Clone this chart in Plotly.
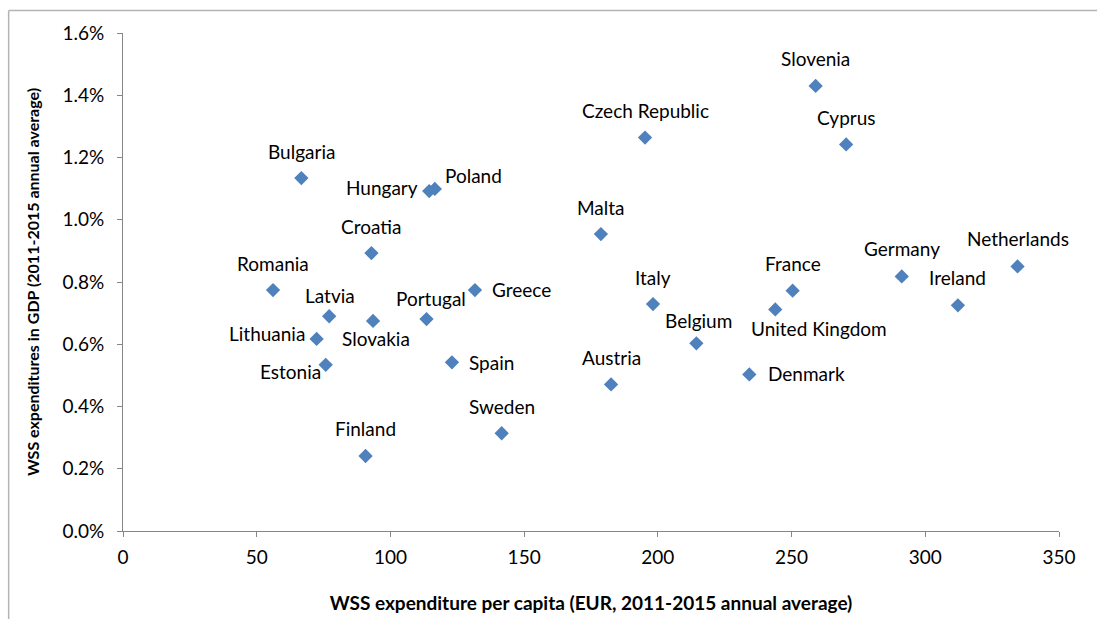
import plotly.graph_objects as go

# ---- data ----
countries = [
    "Bulgaria", "Hungary", "Poland", "Croatia", "Romania", "Latvia", "Slovakia",
    "Portugal", "Greece", "Lithuania", "Estonia", "Spain", "Sweden", "Finland",
    "Slovenia", "Czech Republic", "Cyprus", "Malta", "Italy", "France",
    "United Kingdom", "Belgium", "Austria", "Denmark", "Germany", "Ireland",
    "Netherlands",
]
exp_per_capita = [
    66.7, 114.5, 116.6, 92.9, 56.1, 77.1, 93.5,
    113.5, 131.6, 72.4, 75.8, 123.0, 141.6, 90.7,
    259.0, 195.2, 270.4, 178.7, 198.2, 250.4,
    243.9, 214.4, 182.5, 234.2, 291.2, 312.2,
    334.5,
]
exp_share_gdp = [  # percent of GDP
    1.134, 1.092, 1.099, 0.893, 0.774, 0.690, 0.675,
    0.681, 0.774, 0.617, 0.534, 0.542, 0.314, 0.241,
    1.430, 1.264, 1.242, 0.954, 0.729, 0.772,
    0.712, 0.603, 0.471, 0.503, 0.818, 0.725,
    0.850,
]
x_ticks = [0, 50, 100, 150, 200, 250, 300, 350]
y_ticks = [0.0, 0.2, 0.4, 0.6, 0.8, 1.0, 1.2, 1.4, 1.6]

x_title = "WSS expenditure per capita (EUR, 2011-2015 annual average)"
y_title = "WSS expenditures in GDP (2011-2015 annual average)"

# ---- label placement (style only): anchor, x-offset px, y-offset px (down positive) ----
label_place = {
    "Bulgaria": ("center", 0, -26), "Hungary": ("right", -9, -3),
    "Poland": ("left", 8, -12), "Croatia": ("center", 0, -26),
    "Romania": ("center", 0, -26), "Latvia": ("center", 1, -20),
    "Slovakia": ("center", 3, 19), "Portugal": ("center", 4, -20),
    "Greece": ("left", 15, 0), "Lithuania": ("right", -10, -4),
    "Estonia": ("right", -3, 8), "Spain": ("left", 15, 1),
    "Sweden": ("center", 0, -26), "Finland": ("center", 0, -26),
    "Slovenia": ("center", 0, -26), "Czech Republic": ("center", 0, -26),
    "Cyprus": ("center", 0, -26), "Malta": ("center", 0, -26),
    "Italy": ("center", 0, -26), "France": ("center", 0, -26),
    "United Kingdom": ("left", -26, 20), "Belgium": ("center", 2, -22),
    "Austria": ("center", 0, -26), "Denmark": ("left", 17, 0),
    "Germany": ("center", 0, -27), "Ireland": ("center", 0, -27),
    "Netherlands": ("center", 0, -27),
}

FONT = "Lato"
AXIS_COLOR = "#868686"
MARKER_COLOR = "#4F81BD"
LABEL_SIZE = 19

W, H = 1097, 619
L, T = 123.3, 32.5
R = W - 1059
B = H - 531
PW, PH = W - L - R, H - T - B

fig = go.Figure()
fig.add_trace(go.Scatter(
    x=exp_per_capita, y=exp_share_gdp, mode="markers",
    marker=dict(symbol="diamond", size=11, color=MARKER_COLOR, line=dict(width=0)),
    text=countries, hoverinfo="text", showlegend=False, cliponaxis=False,
))

TEXT_MID_FIX = 1  # box-middle vs cap-middle correction
for name, xv, yv in zip(countries, exp_per_capita, exp_share_gdp):
    anchor, dx, dy = label_place[name]
    fig.add_annotation(
        x=xv, y=yv, xref="x", yref="y", text=name, showarrow=False,
        xanchor=anchor, yanchor="middle", xshift=dx, yshift=-dy + TEXT_MID_FIX,
        font=dict(family=FONT, size=LABEL_SIZE, color="#000000"),
    )

# outer chart border (Excel chart area frame), at x=9, y=10, open to right/bottom
bx = (9 - L) / PW
by = (H - B - 10) / PH
fig.add_shape(type="line", xref="paper", yref="paper", x0=bx, x1=(W + 20 - L) / PW,
              y0=by, y1=by, line=dict(color="#B4B4B4", width=1.5))
fig.add_shape(type="line", xref="paper", yref="paper", x0=bx, x1=bx,
              y0=by, y1=(H - B - (H + 20)) / PH, line=dict(color="#B4B4B4", width=1.5))

fig.update_layout(
    width=W, height=H,
    margin=dict(l=L, r=R, t=T, b=B, pad=0),
    paper_bgcolor="white", plot_bgcolor="white",
    font=dict(family=FONT, size=LABEL_SIZE, color="#000000"),
    xaxis=dict(
        range=[0, 350], tickvals=x_ticks, ticktext=[str(v) for v in x_ticks],
        showgrid=False, zeroline=False, showline=True, linecolor=AXIS_COLOR, linewidth=1,
        ticks="outside", ticklen=5, tickcolor=AXIS_COLOR, tickwidth=1,
        ticklabelstandoff=4, automargin=False,
        tickfont=dict(family=FONT, size=19, color="#000000"),
        title=dict(text="<b>" + x_title + "</b>", standoff=29,
                   font=dict(family=FONT, size=19, color="#000000")),
    ),
    yaxis=dict(
        range=[0, 1.6], tickvals=y_ticks, ticktext=[f"{v:.1f}%" for v in y_ticks],
        showgrid=False, zeroline=False, showline=True, linecolor=AXIS_COLOR, linewidth=1,
        ticks="outside", ticklen=5, tickcolor=AXIS_COLOR, tickwidth=1,
        ticklabelstandoff=9, automargin=False,
        tickfont=dict(family=FONT, size=19, color="#000000"),
        title=dict(text="<b>" + y_title + "</b>", standoff=18,
                   font=dict(family=FONT, size=16, color="#000000")),
    ),
)

fig.write_html(
    "out.html",
    config={"displayModeBar": False},
    post_script="document.body.style.margin='0';document.body.style.overflow='hidden';",
)
